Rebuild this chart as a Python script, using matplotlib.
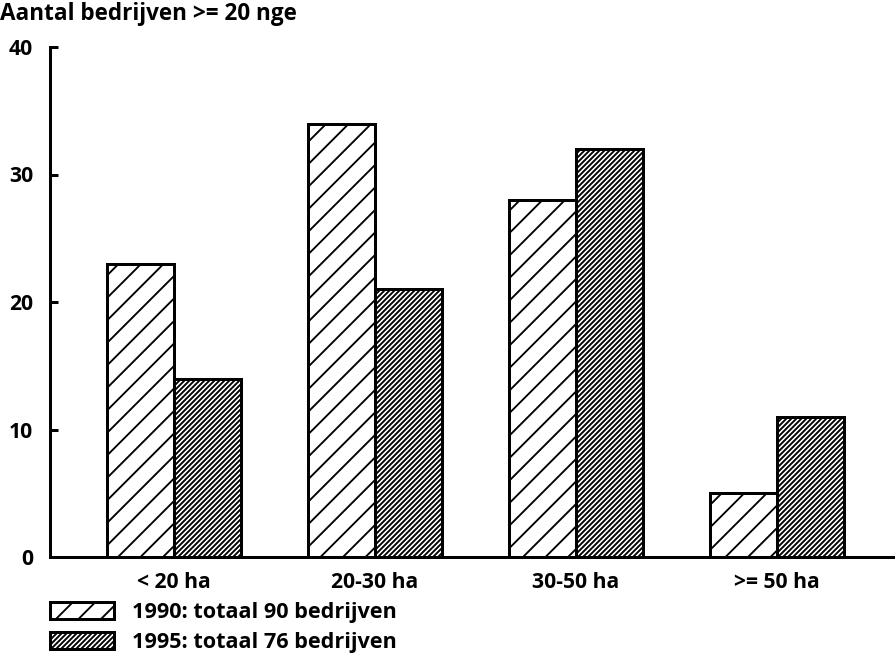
import matplotlib
matplotlib.use("Agg")
import matplotlib.pyplot as plt
import numpy as np

# data
categories = ["< 20 ha", "20-30 ha", "30-50 ha", ">= 50 ha"]
values_1990 = [23, 34, 28, 5]
values_1995 = [14, 21, 32, 11]
label_1990 = "1990: totaal 90 bedrijven"
label_1995 = "1995: totaal 76 bedrijven"
y_title = "Aantal bedrijven >= 20 nge"
y_ticks = [0, 10, 20, 30, 40]

DPI = 135
plt.rcParams['font.family'] = ['Open Sans', 'DejaVu Sans']
plt.rcParams['font.weight'] = 'bold'
plt.rcParams['hatch.linewidth'] = 1.0
plt.rcParams['hatch.color'] = 'black'

fig = plt.figure(figsize=(895 / DPI, 657 / DPI), dpi=DPI)
ax = fig.add_axes([50 / 895, 1 - 557 / 657, 1 - 50 / 895, (557 - 47) / 657])

x = np.arange(len(categories))
w = 1 / 3
b1 = ax.bar(x - w / 2, values_1990, w, facecolor='white', edgecolor='black',
            linewidth=1.6, hatch='//', label=label_1990)
b2 = ax.bar(x + w / 2, values_1995, w, facecolor='white', edgecolor='black',
            linewidth=1.6, hatch='/////////', label=label_1995)

ax.set_xlim(-0.617, 3.587)
ax.set_ylim(0, 40)
ax.set_yticks(y_ticks)
ax.set_xticks(x)
ax.set_xticklabels(categories)

for s in ['top', 'right']:
    ax.spines[s].set_visible(False)
for s in ['left', 'bottom']:
    ax.spines[s].set_linewidth(1.6)

ax.tick_params(axis='y', direction='in', length=4.5, width=1.6, pad=9, labelsize=11.3)
ax.tick_params(axis='x', length=0, pad=8, labelsize=11.3)

fig.text(0.0, 1 - 14 / 657, y_title, fontsize=12.0, va='center', ha='left')

fig.legend(handles=[b1, b2], loc='upper left', bbox_to_anchor=(50 / 895, 1 - 602 / 657),
           frameon=False, fontsize=11.5, handlelength=2.95, handleheight=0.85,
           handletextpad=0.85, labelspacing=0.4, borderpad=0, borderaxespad=0)

fig.savefig("out.png", dpi=DPI)
